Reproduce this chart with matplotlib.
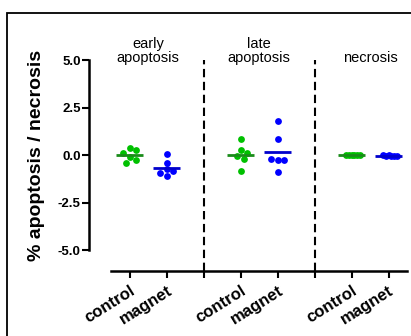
import numpy as np
import matplotlib
matplotlib.use('Agg')
import matplotlib.pyplot as plt
from matplotlib.patches import Rectangle

plt.rcParams['font.family'] = ['Liberation Sans', 'DejaVu Sans']

# 数据
groups = ['early\napoptosis', 'late\napoptosis', 'necrosis']
tick_labels = ['control', 'magnet']

early_control = [0.38, 0.26, 0.1, -0.09, -0.26, -0.4]
early_magnet = [0.05, -0.4, -0.75, -0.85, -0.95, -1.1]
late_control = [0.82, 0.26, 0.09, -0.05, -0.23, -0.84]
late_magnet = [1.81, 0.82, -0.26, -0.28, -0.23, -0.89]
necrosis_control = [0.02, 0.0, -0.01, 0.01, -0.02, 0.0]
necrosis_magnet = [-0.02, -0.04, -0.03, -0.05, -0.02, -0.03]

series = [early_control, early_magnet, late_control, late_magnet,
          necrosis_control, necrosis_magnet]

dot_colors = ['#00c000', '#0000ff']
line_colors = ['#1a8c1a', '#0000cc']


def swarm_offsets(values, xr, yr, limit=0.24):
    # 简单的 beeswarm：避免点重叠，宽度有上限
    placed = []
    offsets = []
    for v in values:
        ok_off = 0.0
        for k in range(0, 40):
            cand = [0.0] if k == 0 else [k * xr * 0.5, -k * xr * 0.5]
            found = None
            for c in cand:
                if all(((c - px) / xr) ** 2 + ((v - py) / yr) ** 2 >= 1 for px, py in placed):
                    found = c
                    break
            if found is not None:
                ok_off = found
                break
        placed.append((ok_off, v))
        offsets.append(ok_off)
    offsets = np.array(offsets)
    mx = np.abs(offsets).max()
    if mx > limit:
        offsets = offsets * limit / mx
    return offsets


fig = plt.figure(figsize=(4.11, 3.36), dpi=100)
ax = fig.add_axes([89 / 411, 1 - 271 / 336, (407 - 89) / 411, (271 - 31.5) / 336])

ax.set_xlim(-1.1, 7.5)
ax.set_ylim(-6.1, 6.5)

positions = [0, 1, 3, 4, 6, 7]
# 点的直径约 6.5px -> x 方向 6.5/37 单位, y 方向 6.5/19 单位
for i, (pos, vals) in enumerate(zip(positions, series)):
    offs = swarm_offsets(vals, 6.5 / 37, 6.5 / 19)
    ax.scatter(offs + pos, vals, s=24, color=dot_colors[i % 2],
               linewidths=0, zorder=3)
    m = np.mean(vals)
    ax.plot([pos - 0.36, pos + 0.36], [m, m], color=line_colors[i % 2],
            lw=2, zorder=4, solid_capstyle='butt')

# 分隔虚线
for xs in [2, 5]:
    ax.plot([xs, xs], [-6.1, 5.0], color='black', lw=1.5,
            dashes=(4, 2.2), clip_on=False)

# 组标题
for g, xc in zip(groups, [0.5, 3.5, 6.5]):
    ax.text(xc, 4.9, g, ha='center', va='baseline', fontsize=10.5,
            linespacing=0.95)

# 坐标轴
for s in ['top', 'right']:
    ax.spines[s].set_visible(False)
ax.spines['left'].set_bounds(-5, 5)
ax.spines['bottom'].set_bounds(-0.5, 7.5)
ax.spines['left'].set_linewidth(1.8)
ax.spines['bottom'].set_linewidth(1.8)

ax.set_yticks([-5, -2.5, 0, 2.5, 5])
ax.set_yticklabels(['-5.0', '-2.5', '0.0', '2.5', '5.0'],
                   fontsize=9.5, fontweight='bold')
ax.tick_params(axis='y', length=5, width=1.5, pad=1)

ax.set_xticks(range(8))
ax.set_xticklabels(['control', 'magnet', '', 'control', 'magnet', '',
                    'control', 'magnet'], fontsize=12, fontweight='bold',
                   rotation=32, ha='right', rotation_mode='anchor')
ax.tick_params(axis='x', length=5, width=1.5, pad=3.5)

ax.set_ylabel('% apoptosis / necrosis', fontsize=14, fontweight='bold')
ax.yaxis.set_label_coords(-0.138, 0.482)

# 外框
fig.patches.append(Rectangle((7 / 411, -0.1), 1.2, 1.1 - 13 / 336,
                             transform=fig.transFigure, fill=False,
                             edgecolor='black', lw=1.3))

fig.savefig('out.png', dpi=100)
